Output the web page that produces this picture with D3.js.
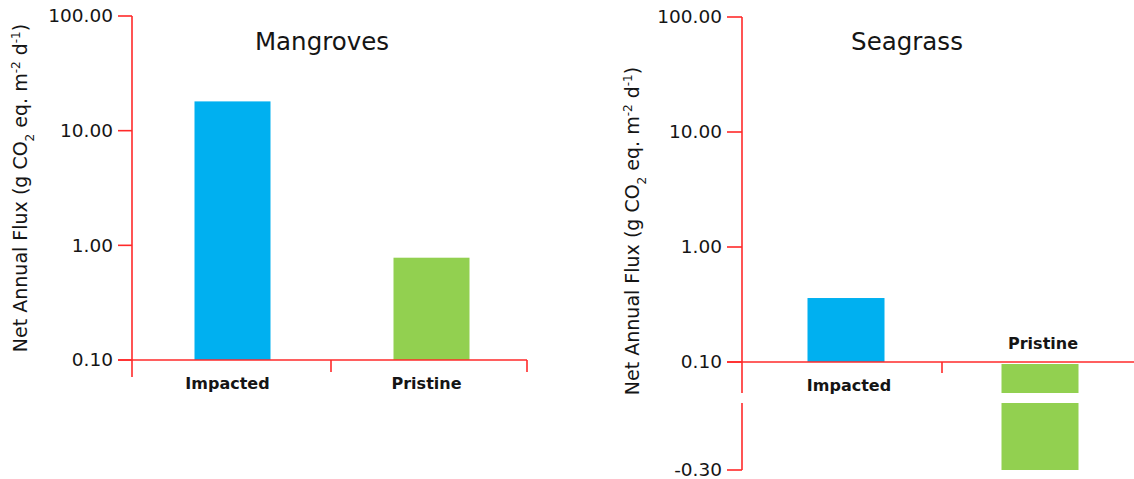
<!DOCTYPE html>
<html>
<head>
<meta charset="utf-8">
<script src="https://cdn.jsdelivr.net/npm/d3@7"></script>
<style>
  html, body { margin: 0; padding: 0; background: #fff; }
  svg { display: block; }
  text { font-family: "DejaVu Sans", sans-serif; fill: #151515; }
</style>
</head>
<body>
<svg id="chart" width="1134" height="479"></svg>
<script>
// Net annual CO2-equivalent flux, g CO2 eq. m^-2 d^-1
const categories = ["Impacted", "Pristine"];
const mangroveValues = [18.0, 0.78];
const seagrassValues = [0.36, -0.30];
const logTicks = [0.1, 1, 10, 100];
const negativeTicks = [-0.30];
const panelTitles = ["Mangroves", "Seagrass"];

const AXIS = "#ff2a2a";
const BAR_COLORS = ["#00b0f0", "#92d050"];

const svg = d3.select("#chart");
// two decimals, plain hyphen for negatives
const fmt = d => (d < 0 ? "-" : "") + d3.format(".2f")(Math.abs(d));

function yTitle(g, x, yc) {
  const t = g.append("text")
    .attr("transform", `translate(${x},${yc}) rotate(-90)`)
    .attr("text-anchor", "middle")
    .style("font-size", "19px");
  t.append("tspan").text("Net Annual Flux (g CO");
  t.append("tspan").text("2").attr("baseline-shift", "sub").style("font-size", "12px");
  t.append("tspan").text(" eq. m");
  t.append("tspan").text("-2").attr("baseline-shift", "super").style("font-size", "12px");
  t.append("tspan").text(" d");
  t.append("tspan").text("-1").attr("baseline-shift", "super").style("font-size", "12px");
  t.append("tspan").text(")");
}

function logAxis(g, y, x0, tickLen, yEnd) {
  g.append("line")
    .attr("x1", x0).attr("x2", x0)
    .attr("y1", y(100)).attr("y2", yEnd)
    .attr("stroke", AXIS).attr("stroke-width", 1.6);
  const t = g.selectAll(".tk").data(logTicks).join("g")
    .attr("transform", d => `translate(0,${y(d)})`);
  t.append("line").attr("x1", x0 - tickLen).attr("x2", x0)
    .attr("stroke", AXIS).attr("stroke-width", 1.6);
  t.append("text").attr("x", x0 - tickLen - 5).attr("dy", "0.35em")
    .attr("text-anchor", "end").style("font-size", "18.5px")
    .text(d => fmt(d));
}

function xBaseline(g, y0, x1, x2, tickDown, tickXs) {
  g.append("line").attr("x1", x1).attr("x2", x2).attr("y1", y0).attr("y2", y0)
    .attr("stroke", AXIS).attr("stroke-width", 1.6);
  g.selectAll(".xt").data(tickXs).join("line")
    .attr("x1", d => d).attr("x2", d => d)
    .attr("y1", y0).attr("y2", y0 + tickDown)
    .attr("stroke", AXIS).attr("stroke-width", 1.6);
}

// ---------- Mangroves ----------
{
  const g = svg.append("g");
  const y = d3.scaleLog().domain([0.1, 100]).range([360, 16]);
  const x = d3.scaleBand().domain(categories).range([133, 531]).paddingInner(0).paddingOuter(0);
  const barW = 76;

  g.selectAll(".bar").data(categories).join("rect")
    .attr("x", d => x(d) + x.bandwidth() / 2 - barW / 2)
    .attr("width", barW)
    .attr("y", (d, i) => y(mangroveValues[i]))
    .attr("height", (d, i) => y(0.1) - y(mangroveValues[i]))
    .attr("fill", (d, i) => BAR_COLORS[i]);

  logAxis(g, y, 132, 14, 377);
  xBaseline(g, y(0.1), 118, 527, 12,
    [x(categories[1]) - 1, x(categories[1]) + x.bandwidth() - 4]);

  g.selectAll(".cl").data(categories).join("text")
    .attr("x", d => x(d) + x.bandwidth() / 2 - 5)
    .attr("y", 389)
    .attr("text-anchor", "middle")
    .style("font-size", "16px").style("font-weight", "bold")
    .text(d => d);

  g.append("text").attr("x", 322).attr("y", 50).attr("text-anchor", "middle")
    .style("font-size", "24.5px").text(panelTitles[0]);
  yTitle(g, 27, 188);
}

// ---------- Seagrass (broken axis) ----------
{
  const g = svg.append("g");
  const y = d3.scaleLog().domain([0.1, 100]).range([362, 17]);
  // lower segment below the axis break
  const yNeg = d3.scaleLinear().domain([-0.30, -0.10]).range([470, 403]);
  const breakTop = 393, breakBottom = 403;
  const x = d3.scaleBand().domain(categories).range([749, 1137]);
  const barW = 77;
  const cx = d => x(d) + x.bandwidth() / 2 - barW / 2;

  // positive bar
  g.selectAll(".bar").data(categories.filter((c, i) => seagrassValues[i] > 0)).join("rect")
    .attr("x", cx).attr("width", barW)
    .attr("y", d => y(seagrassValues[categories.indexOf(d)]))
    .attr("height", d => y(0.1) - y(seagrassValues[categories.indexOf(d)]))
    .attr("fill", d => BAR_COLORS[categories.indexOf(d)]);

  // negative bar, split by the break
  categories.forEach((c, i) => {
    const v = seagrassValues[i];
    if (v >= 0) return;
    g.append("rect").attr("x", cx(c)).attr("width", barW)
      .attr("y", y(0.1) + 2).attr("height", breakTop - y(0.1) - 2)
      .attr("fill", BAR_COLORS[i]);
    g.append("rect").attr("x", cx(c)).attr("width", barW)
      .attr("y", breakBottom).attr("height", yNeg(v) - breakBottom)
      .attr("fill", BAR_COLORS[i]);
  });

  logAxis(g, y, 742, 15, breakTop);
  // axis below the break
  g.append("line").attr("x1", 742).attr("x2", 742)
    .attr("y1", breakBottom).attr("y2", yNeg(-0.30))
    .attr("stroke", AXIS).attr("stroke-width", 1.6);
  const nt = g.selectAll(".nt").data(negativeTicks).join("g")
    .attr("transform", d => `translate(0,${yNeg(d)})`);
  nt.append("line").attr("x1", 727).attr("x2", 742)
    .attr("stroke", AXIS).attr("stroke-width", 1.6);
  nt.append("text").attr("x", 722).attr("dy", "0.35em")
    .attr("text-anchor", "end").style("font-size", "18.5px")
    .text(d => fmt(d));

  xBaseline(g, y(0.1), 727, 1134, 11, [x(categories[1]) - 1]);

  g.selectAll(".cl").data(categories).join("text")
    .attr("x", d => x(d) + x.bandwidth() / 2 + 3)
    .attr("y", (d, i) => seagrassValues[i] > 0 ? 391 : 349)
    .attr("text-anchor", "middle")
    .style("font-size", "16px").style("font-weight", "bold")
    .text(d => d);

  g.append("text").attr("x", 907).attr("y", 50).attr("text-anchor", "middle")
    .style("font-size", "24.5px").text(panelTitles[1]);
  yTitle(g, 639, 231);
}
</script>
</body>
</html>
